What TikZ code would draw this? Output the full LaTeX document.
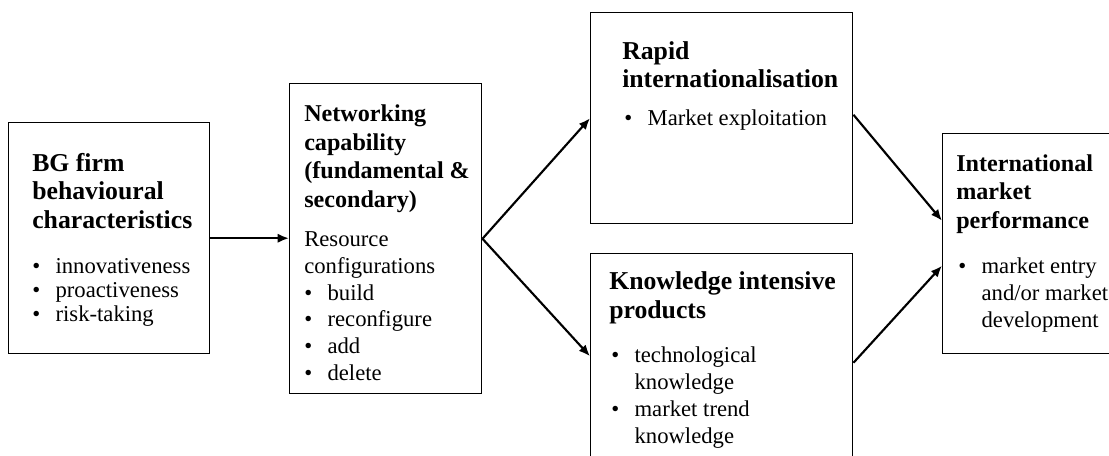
\documentclass[tikz,border=0pt]{standalone}
\usepackage{fontspec}
\setmainfont{Liberation Serif}
\usetikzlibrary{arrows.meta}

\newcommand{\bul}{\makebox[17.5pt][l]{\textbullet}}
\newcommand{\ind}{\hspace*{17.5pt}}

% text nodes sit on the baseline of their last line
\tikzset{
  box/.style 2 args={draw,line width=1.1pt,anchor=north west,inner sep=0pt,
    minimum width=#1*0.75pt,minimum height=#2*0.75pt},
  headtext/.style={anchor=base west,inner sep=0pt,align=left,
    font=\bfseries\fontsize{#1}{21.3}\selectfont},
  headtext/.default=19.3,
  listtext/.style={anchor=base west,inner sep=0pt,align=left,
    font=\fontsize{17}{#1}\selectfont},
  conn/.style={line width=1.6pt,-{Latex[length=8.5pt,width=7pt]}}
}

\begin{document}
\begin{tikzpicture}[x=0.75pt,y=-0.75pt]
  \useasboundingbox (0,0) rectangle (1109,456);
  \clip (0,0) rectangle (1109,456);
  % boxes
  \node[box={201}{231}] (bg) at (8,122) {};
  \node[box={192}{310}] (net) at (289,83) {};
  \node[box={262}{211}] (rapid) at (590,12) {};
  \node[box={262}{205}] (know) at (590,253) {};
  \node[box={190}{220}] (perf) at (942,133) {};
  % texts
  \node[headtext] (bgt) at (32,228) {BG firm\\behavioural\\characteristics};
  \node[listtext=18pt] (bgl) at (32,321) {\bul innovativeness\\\bul proactiveness\\\bul risk-taking};
  \node[headtext=18.1] (nett) at (304,207) {Networking\\capability\\(fundamental \&\\secondary)};
  \node[listtext=20pt] (netl) at (304,380) {Resource\\configurations\\\bul build\\\bul reconfigure\\\bul add\\\bul delete};
  \node[headtext] (rapidt) at (622,88) {Rapid\\internationalisation};
  \node[listtext=20pt] (rapidl) at (624,126) {\bul Market exploitation};
  \node[headtext] (knowt) at (609,318) {Knowledge intensive\\products};
  \node[listtext=20.25pt] (knowl) at (611,443) {\bul technological\\\ind knowledge\\\bul market trend\\\ind knowledge};
  \node[headtext=18.1] (perft) at (956,228) {International\\market\\performance};
  \node[listtext=20.25pt] (perfl) at (958,327) {\bul market entry\\\ind and/or market\\\ind development};
  % arrows
  \draw[conn] (bg.east) -- (bg.east -| net.west);
  \draw[conn] (net.east) -- (rapid.west);
  \draw[conn] (net.east) -- (know.west);
  \draw[conn] ([yshift=2.6pt]rapid.east) -- ([yshift=17.25pt]perf.west);
  \draw[conn] ([yshift=-4.9pt]know.east) -- ([yshift=-16.5pt]perf.west);
\end{tikzpicture}
\end{document}
